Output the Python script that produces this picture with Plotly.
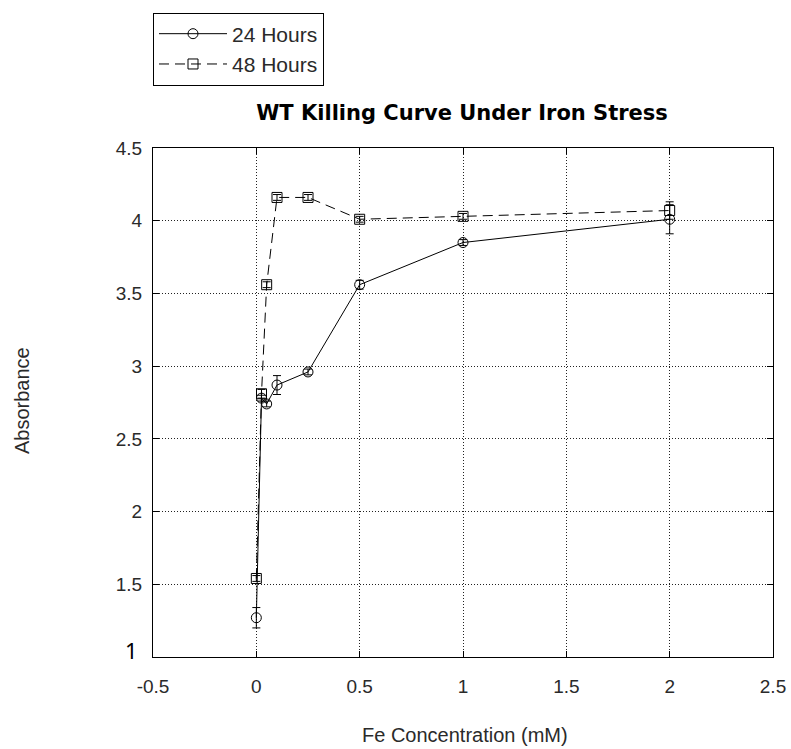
import plotly.graph_objects as go

# Data
conc = [0, 0.025, 0.05, 0.1, 0.25, 0.5, 1, 2]
abs_24h = [1.27, 2.78, 2.74, 2.87, 2.96, 3.56, 3.85, 4.01]
err_24h = [0.07, 0.02, 0.02, 0.065, 0.02, 0.03, 0.02, 0.10]
abs_48h = [1.54, 2.81, 3.56, 4.16, 4.16, 4.01, 4.03, 4.07]
err_48h = [0.02, 0.03, 0.02, 0.02, 0.02, 0.02, 0.02, 0.06]

x_ticks = [-0.5, 0, 0.5, 1, 1.5, 2, 2.5]
x_ticktext = ["-0.5", "0", "0.5", "1", "1.5", "2", "2.5"]
y_ticks = [1, 1.5, 2, 2.5, 3, 3.5, 4, 4.5]
y_ticktext = ["", "1.5", "2", "2.5", "3", "3.5", "4", "4.5"]
y_first_label = "1"

title_text = "<b>WT Killing Curve Under Iron Stress</b>"
x_title = "Fe Concentration (mM)"
y_title = "Absorbance"

FONT = "Liberation Sans, Arial, sans-serif"
TXT = "#2a2a2a"

fig = go.Figure()
fig.add_trace(go.Scatter(
    x=conc, y=abs_24h, name="24 Hours", mode="lines+markers",
    line=dict(color="black", width=1),
    marker=dict(symbol="circle-open", size=10, color="black", line=dict(width=1, color="black")),
    error_y=dict(type="data", array=err_24h, color="black", thickness=1, width=4),
))
fig.add_trace(go.Scatter(
    x=conc, y=abs_48h, name="48 Hours", mode="lines+markers",
    line=dict(color="black", width=1, dash="10px,6px"),
    marker=dict(symbol="square-open", size=10, color="black", line=dict(width=1, color="black")),
    error_y=dict(type="data", array=err_48h, color="black", thickness=1, width=4),
))

axis_common = dict(
    showline=True, linecolor="black", linewidth=1, mirror="ticks",
    ticks="inside", ticklen=6, tickcolor="black",
    showgrid=True, gridcolor="#222", gridwidth=1, griddash="1px,2px",
    zeroline=False, automargin=False,
    tickfont=dict(family=FONT, size=19, color=TXT),
)

fig.update_layout(
    width=791, height=749,
    margin=dict(l=153, r=18, t=146, b=92),
    paper_bgcolor="white", plot_bgcolor="white",
    font=dict(family=FONT, color=TXT),
    title=dict(text=title_text, x=462 / 791, xanchor="center",
               y=1 - 113 / 749, yanchor="middle", yref="container",
               font=dict(size=21, color="black", family="DejaVu Sans, Verdana, sans-serif")),
    xaxis=dict(range=[-0.5, 2.5], tickvals=x_ticks, ticktext=x_ticktext,
               ticklabelstandoff=12, **axis_common),
    yaxis=dict(range=[1, 4.5], tickvals=y_ticks, ticktext=y_ticktext,
               ticklabelstandoff=6, **axis_common),
    showlegend=True,
    legend=dict(x=0, xanchor="left", y=1 + (146 - 10) / 511, yanchor="top",
                bordercolor="black", borderwidth=1, bgcolor="white",
                font=dict(size=21, color=TXT, family=FONT),
                tracegroupgap=0, itemwidth=68),
    annotations=[
        dict(text=x_title, xref="paper", yref="paper", x=(465 - 153) / 620, y=(657 - 735) / 511,
             showarrow=False, xanchor="center", yanchor="middle",
             font=dict(size=20, color=TXT)),
        dict(text=y_title, xref="paper", yref="paper", x=(22 - 153) / 620, y=(657 - 400) / 511,
             showarrow=False, xanchor="center", yanchor="middle", textangle=-90,
             font=dict(size=20, color=TXT)),
        dict(text=y_first_label, xref="paper", yref="paper", x=(131 - 153) / 620, y=(657 - 650) / 511,
             showarrow=False, xanchor="center", yanchor="middle",
             font=dict(size=22, color="black", family="Noto Sans, sans-serif")),
    ],
)

fig.write_html("out.html")
